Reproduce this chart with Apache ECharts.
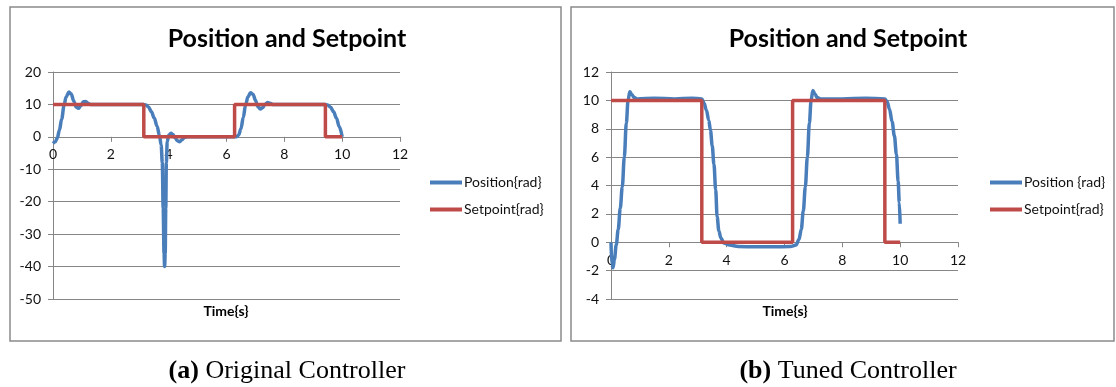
<!DOCTYPE html>
<html>
<head>
<meta charset="utf-8">
<script src="https://cdn.jsdelivr.net/npm/echarts@6/dist/echarts.min.js"></script>
<style>
html,body{margin:0;padding:0;background:#fff;}
#chart{width:1116px;height:387px;}
</style>
</head>
<body>
<div id="chart"></div>
<script>
// ---- Data ----
const titleText = 'Position and Setpoint';
const xAxisName = 'Time{s}';
const captions = [['(a)', ' Original Controller'], ['(b)', ' Tuned Controller']];

// (a) Original controller
const leftPosName = 'Position{rad}';
const leftSetName = 'Setpoint{rad}';
const leftPosTime = [0,0.08,0.15,0.22,0.3,0.38,0.45,0.55,0.63,0.72,0.8,0.88,0.96,1.05,1.13,1.22,1.3,2.0,3.14,3.22,3.3,3.4,3.5,3.6,3.68,3.74,3.78,3.81,3.84,3.86,3.88,3.9,3.92,3.95,4.0,4.08,4.15,4.22,4.3,4.38,4.46,4.55,4.65,5.5,6.35,6.42,6.5,6.58,6.66,6.74,6.83,6.92,7.0,7.08,7.17,7.25,7.33,7.42,7.5,7.6,8.5,9.42,9.5,9.6,9.7,9.8,9.9,10];
const leftPosValue = [-2,-1.5,-0.3,2,5.5,9.5,12.3,13.8,13.2,11,9.2,8.8,9.6,10.8,10.9,10.3,10,10,10,9.8,9.2,7.8,5.8,3.3,0.5,-2.5,-8,-22,-36,-40,-36,-22,-8,-1.5,0.5,1.1,0.7,-0.3,-1.2,-1.5,-0.9,-0.1,0,0,0,0.6,2.5,6,9.8,12.3,13.6,13.1,11.3,9.4,8.6,9.0,10.0,10.6,10.4,10.0,10,10,9.8,9.1,7.8,5.8,3.2,0];
const leftSetTime = [0,3.14,3.14,6.28,6.28,9.42,9.42,10];
const leftSetValue = [10,10,0,0,10,10,0,0];
const leftYTicks = {min:-50, max:20, interval:10};

// (b) Tuned controller
const rightPosName = 'Position {rad}';
const rightSetName = 'Setpoint{rad}';
const rightPosTime = [0,0.03,0.07,0.12,0.18,0.25,0.32,0.39,0.46,0.53,0.59,0.65,0.72,0.8,0.9,1.5,2.2,2.8,3.14,3.22,3.3,3.38,3.44,3.5,3.56,3.62,3.67,3.73,3.8,3.9,4.1,4.4,5.0,5.6,6.2,6.4,6.5,6.58,6.65,6.72,6.79,6.86,6.92,6.98,7.05,7.13,7.25,8.0,8.8,9.47,9.55,9.63,9.72,9.8,9.87,9.93,9.97,10];
const rightPosValue = [0,-1.6,-1.8,-1.2,-0.2,0.9,2.4,3.9,6.0,8.4,10.0,10.6,10.4,10.2,10.1,10.15,10.1,10.15,10.1,9.8,9.3,8.6,7.9,6.8,5.5,3.7,1.8,0.8,0.3,-0.05,-0.2,-0.3,-0.32,-0.32,-0.3,-0.2,0.2,0.9,2.2,3.9,6.0,8.4,10.0,10.7,10.45,10.2,10.1,10.1,10.15,10.1,9.9,9.4,8.5,7.5,6.2,4.3,2.8,1.3];
const rightSetTime = [0,3.14,3.14,6.28,6.28,9.47,9.47,10];
const rightSetValue = [10,10,0,0,10,10,0,0];
const rightYTicks = {min:-4, max:12, interval:2};

const xTicks = {min:0, max:12, interval:2};

// ---- Layout / styles ----
const BLUE = '#4a7ebb', RED = '#be4b48', GRID = '#868686', TXT = '#111';
const SANS = 'Lato';
const GRID_H = 227;
const pairs = (t, v) => t.map((x, i) => [x, v[i]]);
// place the x axis where y = 0 (Excel-style crossing), derived from the y scale
const zeroOffset = (t) => -((0 - t.min) / (t.max - t.min)) * GRID_H;

const xAxisBase = (gi, yt) => ({
  type:'value', gridIndex:gi, min:xTicks.min, max:xTicks.max, interval:xTicks.interval,
  position:'bottom', offset:zeroOffset(yt),
  axisLine:{show:true, onZero:false, lineStyle:{color:GRID, width:1}},
  axisTick:{show:true, length:5, lineStyle:{color:GRID}},
  axisLabel:{color:TXT, fontFamily:SANS, fontSize:14, margin:11},
  splitLine:{show:false}
});
const yAxisBase = (gi, t) => ({
  type:'value', gridIndex:gi, min:t.min, max:t.max, interval:t.interval,
  axisLine:{show:true, onZero:false, lineStyle:{color:GRID, width:1}},
  axisTick:{show:true, length:5, lineStyle:{color:GRID}},
  axisLabel:{color:TXT, fontFamily:SANS, fontSize:14, margin:12},
  splitLine:{show:true, lineStyle:{color:GRID, width:1}}
});
const posSeries = (name, gi, t, v) => ({
  name, type:'line', xAxisIndex:gi, yAxisIndex:gi, data:pairs(t, v),
  showSymbol:false, smooth:0.35, smoothMonotone:'x',
  lineStyle:{color:BLUE, width:3.5}, itemStyle:{color:BLUE}, z:2, animation:false
});
const setSeries = (name, gi, t, v) => ({
  name, type:'line', xAxisIndex:gi, yAxisIndex:gi, data:pairs(t, v),
  showSymbol:false, smooth:false,
  lineStyle:{color:RED, width:3.5}, itemStyle:{color:RED}, z:3, animation:false
});
const legendBase = (left, names) => ({
  orient:'vertical', left, top:174, padding:0, icon:'rect', itemWidth:32, itemHeight:4, itemGap:10,
  data:names, selectedMode:false,
  textStyle:{color:TXT, fontFamily:SANS, fontSize:14, lineHeight:17, padding:[0,0,0,-3]}
});
const capStyle = {
  fontFamily:'Liberation Serif', fontSize:26, fontWeight:'normal', color:'#000',
  rich:{b:{fontFamily:'Liberation Serif', fontSize:26, fontWeight:'bold', color:'#000'}}
};
const titleStyle = {fontFamily:SANS, fontSize:25, fontWeight:'bold', color:'#000'};
const nameStyle = {fontFamily:SANS, fontSize:14, fontWeight:'bold', color:'#000'};

const chart = echarts.init(document.getElementById('chart'), null, {renderer:'canvas'});
chart.setOption({
  backgroundColor:'#fff',
  animation:false,
  graphic:[
    {type:'rect', shape:{x:10, y:7, width:551, height:334}, style:{fill:'none', stroke:'#8a8a8a', lineWidth:1.5}, z:-1},
    {type:'rect', shape:{x:571, y:7, width:543, height:334}, style:{fill:'none', stroke:'#8a8a8a', lineWidth:1.5}, z:-1}
  ],
  title:[
    {text:titleText, left:287, top:26, textAlign:'center', padding:0, textStyle:titleStyle},
    {text:titleText, left:848, top:26, textAlign:'center', padding:0, textStyle:titleStyle},
    {text:xAxisName, left:226, top:304, textAlign:'center', padding:0, textStyle:nameStyle},
    {text:xAxisName, left:785, top:304, textAlign:'center', padding:0, textStyle:nameStyle},
    {text:'{b|' + captions[0][0] + '}' + captions[0][1], left:287, top:358, textAlign:'center', padding:0, textStyle:capStyle},
    {text:'{b|' + captions[1][0] + '}' + captions[1][1], left:848, top:358, textAlign:'center', padding:0, textStyle:capStyle}
  ],
  legend:[
    legendBase(430, [leftPosName, leftSetName]),
    legendBase(990, [rightPosName, rightSetName])
  ],
  grid:[
    {left:53, top:72, width:347, height:GRID_H, containLabel:false},
    {left:611, top:72, width:347, height:GRID_H, containLabel:false}
  ],
  xAxis:[xAxisBase(0, leftYTicks), xAxisBase(1, rightYTicks)],
  yAxis:[yAxisBase(0, leftYTicks), yAxisBase(1, rightYTicks)],
  series:[
    posSeries(leftPosName, 0, leftPosTime, leftPosValue),
    setSeries(leftSetName, 0, leftSetTime, leftSetValue),
    posSeries(rightPosName, 1, rightPosTime, rightPosValue),
    setSeries(rightSetName, 1, rightSetTime, rightSetValue)
  ]
});
</script>
</body>
</html>
